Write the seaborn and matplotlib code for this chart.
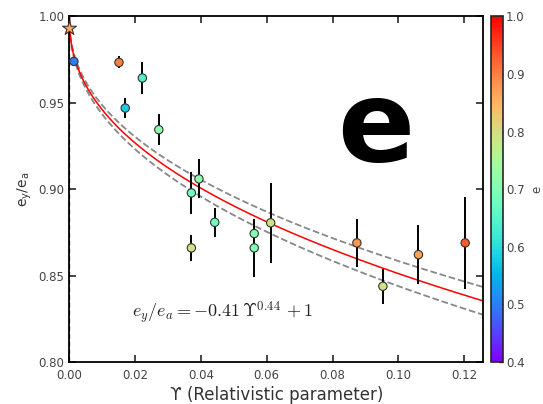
import numpy as np
import matplotlib
matplotlib.use("Agg")
import matplotlib.pyplot as plt
import seaborn as sns

# measured points: relativistic parameter, e_y/e_a, error, colour value (e)
ups = [0.0014, 0.0151, 0.0222, 0.0170, 0.0272, 0.0371, 0.0394, 0.0371,
       0.0442, 0.0562, 0.0562, 0.0612, 0.0874, 0.0953, 0.1061, 0.1203]
ratio = [0.9739, 0.9733, 0.9643, 0.9469, 0.9344, 0.8978, 0.9059, 0.8660,
         0.8808, 0.8743, 0.8660, 0.8805, 0.8689, 0.8438, 0.8621, 0.8689]
ratio_err = [0.0, 0.0035, 0.0092, 0.0060, 0.0090, 0.0120, 0.0113, 0.0075,
             0.0084, 0.0080, 0.0166, 0.0233, 0.0140, 0.0100, 0.0170, 0.0265]
ecc = [0.50, 0.90, 0.64, 0.58, 0.72, 0.68, 0.72, 0.79,
       0.68, 0.70, 0.70, 0.79, 0.88, 0.79, 0.87, 0.93]

# reference point (star)
star_ups = [0.0]
star_ratio = [0.9932]
star_ecc = [0.86]

# fit e_y/e_a = -a * ups^b + 1, with band
fit_a = 0.41
fit_b = 0.44
band_a = [0.39, 0.43]

plt.rcParams['mathtext.fontset'] = 'dejavusans'
sns.set_style("ticks")
plt.rcParams['font.family'] = ['DejaVu Sans']

fig = plt.figure(figsize=(5.43, 4.04), dpi=100)
ax = fig.add_axes([0.1276, 0.104, 0.7624, 0.8557])
cax = fig.add_axes([0.9043, 0.104, 0.0227, 0.8557])

norm = matplotlib.colors.Normalize(vmin=0.4, vmax=1.0)
cmap = plt.get_cmap('rainbow')

xs = np.linspace(0, 0.1258, 400)
for a in band_a:
    sns.lineplot(x=xs, y=1 - a * xs ** fit_b, ax=ax, color='#888888',
                 lw=1.3, dashes=(4, 3), linestyle='--')
sns.lineplot(x=xs, y=1 - fit_a * xs ** fit_b, ax=ax, color='red', lw=1.1)

ax.axvline(0, color='black', ls='--', lw=1.6, dashes=(2, 1.5), zorder=1)

ax.errorbar(ups, ratio, yerr=ratio_err, fmt='none', ecolor='black',
            elinewidth=1.4, capsize=0, zorder=3)
sns.scatterplot(x=ups, y=ratio, hue=ecc, palette='rainbow', hue_norm=norm,
                ax=ax, s=36, edgecolor='#333333', linewidth=0.8,
                legend=False, zorder=4)
sns.scatterplot(x=star_ups, y=star_ratio, hue=star_ecc, palette='rainbow',
                hue_norm=norm, ax=ax, s=110, marker='*', edgecolor='#333333',
                linewidth=0.8, legend=False, zorder=5, clip_on=False)

ax.text(0.0192, 0.8285, r'$e_y/e_a = -0.41\,\Upsilon^{0.44}\,+1$',
        fontsize=13, color='#222222', math_fontfamily='cm', va='center')
ax.text(0.0931, 0.9165, 'e', fontsize=82, fontweight='bold', color='black',
        family='DejaVu Sans', ha='center', va='baseline')

ax.set_xlim(0, 0.1258)
ax.set_ylim(0.80, 1.00)
ax.set_xticks(np.arange(0, 0.121, 0.02))
ax.set_yticks(np.arange(0.80, 1.001, 0.05))
ax.xaxis.set_major_formatter(matplotlib.ticker.FormatStrFormatter('%.2f'))
ax.yaxis.set_major_formatter(matplotlib.ticker.FormatStrFormatter('%.2f'))
ax.tick_params(direction='in', length=5, width=1.2, top=True, right=True,
               labelsize=8.5, labelcolor='#444444')
ax.tick_params(axis='x', pad=5)
for sp in ax.spines.values():
    sp.set_visible(True)
    sp.set_linewidth(1.3)
    sp.set_color('black')

ax.set_xlabel('\u03d2 (Relativistic parameter)', fontsize=12,
              color='#333333', labelpad=3)
ax.set_ylabel(r'$\mathregular{e_y/e_a}$', fontsize=10, color='#333333',
              labelpad=3)

sm = matplotlib.cm.ScalarMappable(norm=norm, cmap=cmap)
cb = fig.colorbar(sm, cax=cax, ticks=np.arange(0.4, 1.01, 0.1))
cb.ax.yaxis.set_major_formatter(matplotlib.ticker.FormatStrFormatter('%.1f'))
cb.ax.tick_params(direction='in', length=3, width=1, labelsize=8.5,
                  labelcolor='#444444', pad=2)
cb.outline.set_linewidth(1.2)
cb.set_label('e', fontsize=8.5, color='#444444', labelpad=4)

fig.savefig('out.png', dpi=100)
